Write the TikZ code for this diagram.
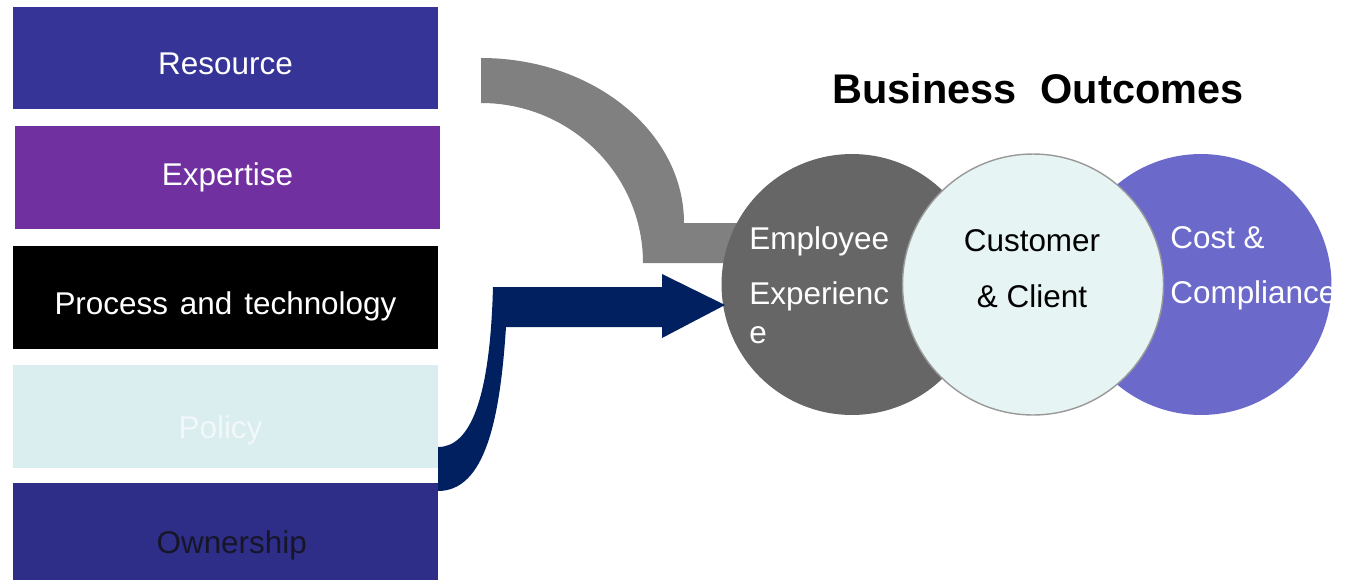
\documentclass[tikz,border=0pt]{standalone}
\usepackage{fontspec}
\setmainfont{Liberation Sans}
\usetikzlibrary{positioning}

\definecolor{resblue}{RGB}{54,52,150}
\definecolor{exppurple}{RGB}{112,48,160}
\definecolor{polcyan}{RGB}{218,237,239}
\definecolor{polfont}{RGB}{241,248,250}
\definecolor{ownblue}{RGB}{46,45,136}
\definecolor{ownfont}{RGB}{22,22,40}
\definecolor{navy}{RGB}{0,32,96}
\definecolor{bandgray}{RGB}{128,128,128}
\definecolor{empgray}{RGB}{102,102,102}
\definecolor{custfill}{RGB}{231,244,244}
\definecolor{costblue}{RGB}{107,106,203}

\begin{document}
\begin{tikzpicture}[
    x=0.02cm, y=-0.02cm,
    box/.style={minimum width=8.5cm, minimum height=2.06cm, inner sep=0pt, text depth=0pt, text height=#1, text=white},
    box/.default=0.65cm,
    ring/.style={circle, minimum size=5.22cm, inner sep=0pt},
    ringtext/.style={inner sep=0pt, text=white},
    every node/.style={font=\fontsize{17.9}{22.2}\selectfont}
]
\useasboundingbox (0,0) rectangle (1346,579);

% Input boxes
\node[box, fill=resblue] (resource) at (225.5,58) {Resource};
\node[box=0.35cm, fill=exppurple, below=0.31cm of resource, xshift=0.04cm] (expertise) {Expertise};
\node[box=0.67cm, fill=black, below=0.34cm of expertise, xshift=-0.04cm] (process) {Process\hspace{0.1em} and\hspace{0.1em} technology};
\node[box=0.87cm, fill=polcyan, text=polfont, below=0.30cm of process] (policy) {\hspace{-0.2cm}Policy};
\node[box=0.79cm, fill=ownblue, text=ownfont, below=0.28cm of policy] (ownership) {\hspace{0.25cm}Ownership};

% Gray bent band (behind the circles)
\fill[bandgray] (481,58) arc[start angle=-90, end angle=0, x radius=203, y radius=165]
    -- (760,223) -- (760,263) -- (643,263)
    arc[start angle=0, end angle=-90, x radius=162, y radius=160] -- cycle;

% Outcome circles
\node[ring, fill=empgray] (employee) at (852,284.5) {};
\node[ring, fill=costblue] (cost) at (1201,284.5) {};
\node[ring, fill=custfill, draw=black!40, line width=0.8pt] (customer) at (1033,284.5) {};

\node[ringtext, anchor=north west, align=left] (emptext) at (749,226) {Employee\\[0.32cm]Experienc\\e};
\node[ringtext, text=black, anchor=north, align=center] (custtext) at (1032,229) {Customer\\[0.34cm]\& Client};
\node[ringtext, anchor=north west, align=left] (costtext) at (1170,226) {Cost \&\\[0.32cm]Compliance};

% Title
\node[font=\fontsize{23.6}{28}\selectfont\bfseries] (title) at (1038,89) {Business\hspace{0.3em} Outcomes};

% Navy arrow from the policy box
\fill[navy] (438,447) .. controls (470,447) and (490,400) .. (493,287)
    -- (662,287) -- (662,274) -- (725,305) -- (662,338) -- (662,327) -- (506,327)
    .. controls (500,420) and (485,491) .. (438,491) -- cycle;

\end{tikzpicture}
\end{document}
